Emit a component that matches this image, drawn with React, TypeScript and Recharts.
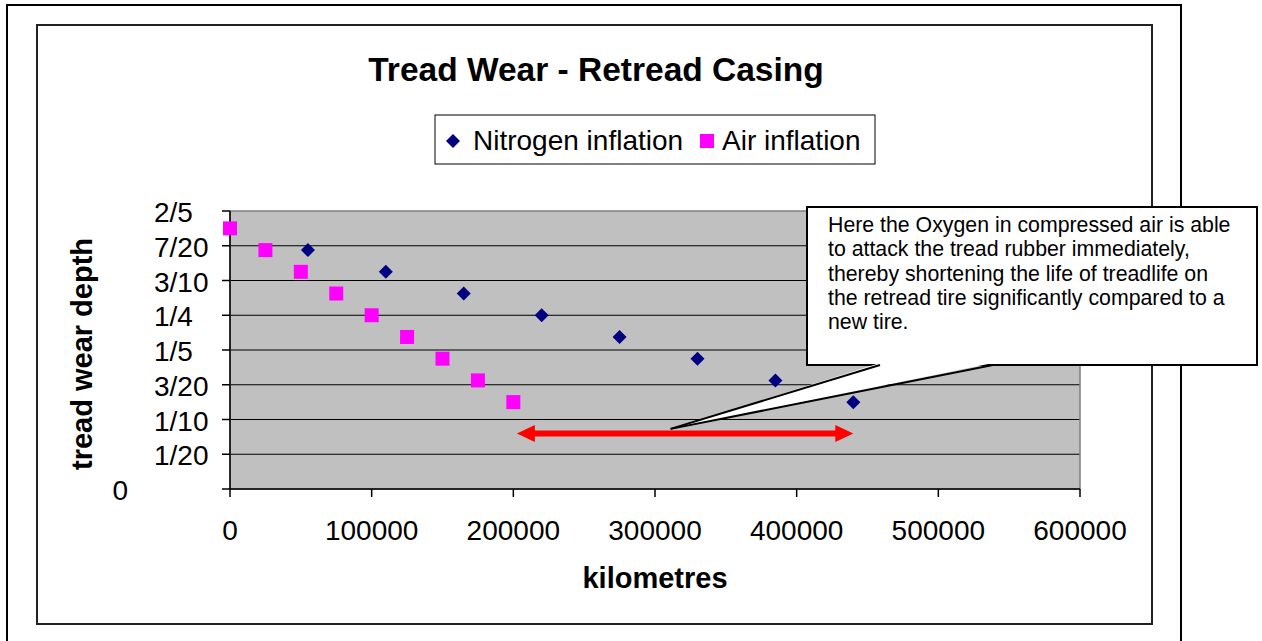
import React from 'react';
import { ScatterChart, Scatter, XAxis, YAxis, CartesianGrid, ReferenceArea, ReferenceLine, ReferenceDot, Customized } from 'recharts';

// Excel style scatter: tread depth against distance, nitrogen vs air inflation

const FONT = '"Liberation Sans", Arial, Helvetica, sans-serif';

// axis ticks (the depth axis uses Excel's fraction format)
const kmTicks = [0, 100000, 200000, 300000, 400000, 500000, 600000];
const depthTicks = [0, 0.05, 0.1, 0.15, 0.2, 0.25, 0.3, 0.35, 0.4];
const depthLabels = ['0', '1/20', '1/10', '3/20', '1/5', '1/4', '3/10', '7/20', '2/5'];

// series values
const nitrogenKm = [55000, 110000, 165000, 220000, 275000, 330000, 385000, 440000];
const nitrogenDepth = [0.34375, 0.3125, 0.28125, 0.25, 0.21875, 0.1875, 0.15625, 0.125];
const airKm = [0, 25000, 50000, 75000, 100000, 125000, 150000, 175000, 200000];
const airDepth = [0.375, 0.34375, 0.3125, 0.28125, 0.25, 0.21875, 0.1875, 0.15625, 0.125];

// annotations
const arrowKm = [202500, 440000];
const arrowDepth = 0.08;
const calloutTip = { km: 311000, depth: 0.0865 };
const calloutLines = [
  'Here the Oxygen in compressed air is able',
  'to attack the tread rubber immediately,',
  'thereby shortening the life of treadlife on',
  'the retread tire significantly compared to a',
  'new tire.',
];

const NAVY = '#000080';
const PINK = '#FF00FF';

const nitrogenData = nitrogenKm.map((x, i) => ({ x, y: nitrogenDepth[i] }));
const airData = airKm.map((x, i) => ({ x, y: airDepth[i] }));

const Diamond = (p: any) => (
  <polygon
    points={`${p.cx},${p.cy - 7} ${p.cx + 7},${p.cy} ${p.cx},${p.cy + 7} ${p.cx - 7},${p.cy}`}
    fill={NAVY}
  />
);

const Square = (p: any) => <rect x={p.cx - 7} y={p.cy - 7} width={14} height={14} fill={PINK} />;

const DepthTick = (p: any) => {
  const i = depthTicks.indexOf(p.payload.value);
  const label = depthLabels[i];
  const isZero = label === '0';
  return (
    <text
      x={isZero ? p.x - 94 : p.x - 68}
      y={p.y + 11}
      textAnchor={isZero ? 'end' : 'start'}
      fontFamily={FONT}
      fontSize={28}
      fill="#000"
    >
      {label}
    </text>
  );
};

const KmTick = (p: any) => (
  <text x={p.x} y={p.y + 43} textAnchor="middle" fontFamily={FONT} fontSize={28} fill="#000">
    {p.payload.value}
  </text>
);

const DoubleArrow = (p: any) => {
  const { x1, y1, x2 } = p;
  const head = 18;
  const half = 8.5;
  return (
    <g>
      <line x1={x1 + head - 2} y1={y1} x2={x2 - head + 2} y2={y1} stroke="#FF0000" strokeWidth={6} />
      <polygon points={`${x1},${y1} ${x1 + head},${y1 - half} ${x1 + head},${y1 + half}`} fill="#FF0000" />
      <polygon points={`${x2},${y1} ${x2 - head},${y1 - half} ${x2 - head},${y1 + half}`} fill="#FF0000" />
    </g>
  );
};

const Callout = (p: any) => {
  const tx = p.cx;
  const ty = p.cy;
  const bx = 807;
  const by = 207;
  const bw = 450;
  const bh = 158;
  const baseY = by + bh;
  const a = 880;
  const b = 993;
  return (
    <g>
      <rect x={bx} y={by} width={bw} height={bh} fill="#fff" stroke="#000" strokeWidth={2} />
      <polygon points={`${a},${baseY - 2} ${b},${baseY - 2} ${tx},${ty}`} fill="#fff" />
      <line x1={a} y1={baseY} x2={tx} y2={ty} stroke="#000" strokeWidth={2} />
      <line x1={b} y1={baseY} x2={tx} y2={ty} stroke="#000" strokeWidth={2} />
      <text x={bx + 21} y={by + 25} fontFamily={FONT} fontSize={21.3} fill="#000">
        {calloutLines.map((l, i) => (
          <tspan key={i} x={bx + 21} dy={i === 0 ? 0 : 24.3}>{l}</tspan>
        ))}
      </text>
    </g>
  );
};

const Overlay = () => (
  <g fontFamily={FONT} fill="#000">
    <text x={596} y={81} textAnchor="middle" fontSize={33.5} fontWeight="bold">Tread Wear - Retread Casing</text>
    <text x={655} y={588} textAnchor="middle" fontSize={29} fontWeight="bold">kilometres</text>
    <text x={92} y={354} textAnchor="middle" fontSize={29} fontWeight="bold" transform="rotate(-90 92 354)">
      tread wear depth
    </text>
    {/* legend */}
    <rect x={435} y={115} width={440} height={49} fill="#fff" stroke="#000" strokeWidth={1} />
    <Diamond cx={453} cy={141} />
    <text x={473} y={150} fontSize={28}>Nitrogen inflation</text>
    <Square cx={707} cy={141} />
    <text x={722} y={150} fontSize={28}>Air inflation</text>
  </g>
);

export default function App() {
  return (
    <div style={{ position: 'absolute', left: 0, top: 0, width: 1262, height: 641, overflow: 'hidden', background: '#fff' }}>
      <div style={{ position: 'absolute', left: 6, top: 4, width: 1176, height: 700, border: '2px solid #000', boxSizing: 'border-box' }} />
      <div style={{ position: 'absolute', left: 36, top: 24, width: 1117, height: 601, border: '2px solid #222', boxSizing: 'border-box' }} />
      <div style={{ position: 'absolute', left: 0, top: 0 }}>
        <ScatterChart width={1262} height={641} margin={{ top: 211, right: 182, bottom: 92, left: 130 }}>
          <CartesianGrid
            vertical={false}
            horizontalValues={[0.05, 0.1, 0.15, 0.2, 0.25, 0.3, 0.35]}
            stroke="#000"
            strokeWidth={1}
            fill="#C0C0C0"
            fillOpacity={1}
          />
          <ReferenceArea x1={0} x2={600000} y1={0} y2={0.4} fill="none" stroke="#808080" strokeWidth={1.5} />
          <XAxis
            type="number"
            dataKey="x"
            domain={[0, 600000]}
            ticks={kmTicks}
            interval={0}
            height={60}
            tickSize={8}
            tickMargin={0}
            axisLine={{ stroke: '#000', strokeWidth: 1.5 }}
            tickLine={{ stroke: '#000', strokeWidth: 1.5 }}
            tick={<KmTick />}
          />
          <YAxis
            type="number"
            dataKey="y"
            domain={[0, 0.4]}
            ticks={depthTicks}
            interval={0}
            width={100}
            tickSize={8}
            tickMargin={0}
            axisLine={{ stroke: '#000', strokeWidth: 1.5 }}
            tickLine={{ stroke: '#000', strokeWidth: 1.5 }}
            tick={<DepthTick />}
          />
          <Scatter name="Nitrogen inflation" data={nitrogenData} fill={NAVY} shape={Diamond} isAnimationActive={false} />
          <Scatter name="Air inflation" data={airData} fill={PINK} shape={Square} isAnimationActive={false} />
          <ReferenceLine
            segment={[{ x: arrowKm[0], y: arrowDepth }, { x: arrowKm[1], y: arrowDepth }]}
            shape={DoubleArrow}
          />
          <ReferenceDot x={calloutTip.km} y={calloutTip.depth} r={0} shape={Callout} />
          <Customized component={<Overlay />} />
        </ScatterChart>
      </div>
    </div>
  );
}
